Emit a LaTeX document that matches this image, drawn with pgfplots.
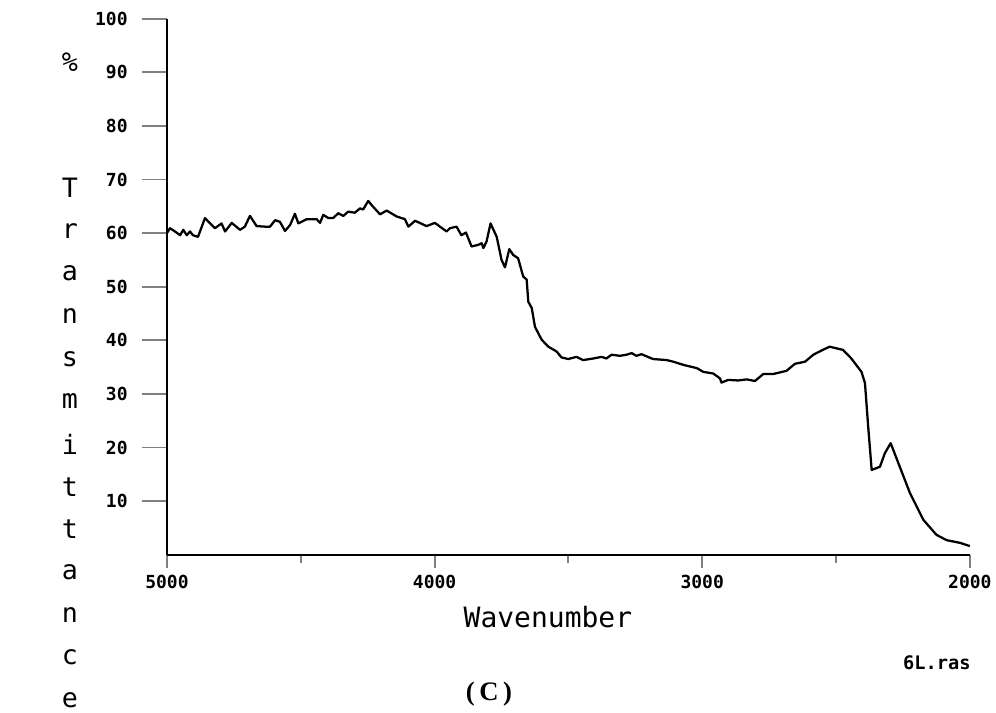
\documentclass[border=0pt]{standalone}
\usepackage{pgfplots}
\pgfplotsset{compat=1.18}
\usepackage{fontspec}
\setmainfont{DejaVu Sans Mono}
\newfontfamily\plotfont{DejaVu Sans Mono}
\newfontfamily\serifont{Liberation Serif}
\begin{document}
\begin{tikzpicture}
\begin{scope}[shift={(-125.25pt,416.025pt)}, x=0.75pt, y=-0.75pt]
\useasboundingbox (0,0) rectangle (996,711);
\end{scope}
\begin{axis}[
  scale only axis,
  width=602.25pt, height=402pt,
  x dir=reverse,
  xmin=2000, xmax=5000, ymin=0, ymax=100,
  axis lines=left,
  axis line style={-, line width=1.4pt},
  xtick={2000,3000,4000,5000},
  minor xtick={2500,3500,4500},
  ytick={10,20,...,100},
  tick align=outside,
  major tick length=19pt,
  minor tick length=6pt,
  xtick style={line width=1.4pt, /pgfplots/major tick length=10pt},
  ytick style={line width=1.4pt},
  minor tick style={line width=1.4pt},
  /pgf/number format/assume math mode=true,
  /pgf/number format/1000 sep={},
  tick label style={font=\plotfont\bfseries\fontsize{13.5}{13.5}\selectfont},
  yticklabel style={xshift=-7pt},
  xticklabel style={yshift=7pt},
  clip=false,
]
\addplot[black, line width=1.7pt, line join=round] table {
x y
5000 60.0
4989 60.9
4970 60.3
4951 59.6
4939 60.6
4926 59.6
4914 60.3
4903 59.6
4884 59.3
4858 62.8
4821 60.9
4796 61.8
4783 60.3
4758 61.9
4727 60.6
4709 61.2
4690 63.2
4665 61.3
4634 61.2
4615 61.2
4596 62.4
4578 62.1
4559 60.4
4540 61.5
4522 63.6
4509 61.8
4478 62.6
4441 62.6
4428 61.9
4416 63.4
4397 62.8
4379 62.8
4360 63.7
4341 63.2
4323 64.0
4298 63.8
4279 64.6
4267 64.4
4248 66.0
4235 65.2
4204 63.5
4179 64.2
4142 63.1
4111 62.6
4098 61.2
4073 62.3
4030 61.3
3999 61.9
3980 61.2
3955 60.3
3943 60.9
3918 61.2
3900 59.6
3883 60.1
3862 57.5
3837 57.8
3824 58.1
3818 57.2
3806 58.4
3791 61.8
3768 59.3
3750 55.0
3737 53.6
3721 57.0
3706 55.9
3688 55.3
3669 51.9
3656 51.3
3650 47.2
3637 46.0
3625 42.5
3600 40.1
3575 38.8
3544 37.9
3526 36.8
3501 36.5
3470 36.9
3445 36.3
3407 36.6
3376 36.9
3358 36.6
3339 37.3
3308 37.1
3283 37.3
3264 37.6
3246 37.1
3227 37.4
3184 36.5
3133 36.3
3108 36.0
3070 35.4
3020 34.8
2996 34.1
2959 33.8
2934 32.9
2928 32.1
2903 32.6
2866 32.5
2834 32.7
2803 32.4
2772 33.7
2735 33.7
2685 34.3
2654 35.6
2616 36.0
2585 37.3
2554 38.1
2524 38.8
2474 38.2
2443 36.6
2405 34.1
2392 32.0
2380 23.9
2367 15.8
2336 16.4
2318 18.9
2296 20.8
2262 16.4
2224 11.5
2174 6.5
2125 3.7
2087 2.7
2037 2.2
2000 1.6
};
\end{axis}
\begin{scope}[shift={(-125.25pt,416.025pt)}, x=0.75pt, y=-0.75pt]
\node[font=\plotfont\fontsize{21}{21}\selectfont] at (548,617) {Wavenumber};
\node[font=\plotfont\bfseries\fontsize{14}{14}\selectfont] at (937,663) {6L.ras};
\node[font=\serifont\bfseries\fontsize{20}{20}\selectfont] at (489,694) {(\,C\,)};
\foreach \c/\yy in {\%/62, T/188, r/231, a/273, n/316, s/359, m/401, i/444, t/487, t/529, a/572, n/615, c/657, e/700}
  \node[font=\plotfont\fontsize{20}{20}\selectfont] at (70,\yy) {\c};
\end{scope}
\end{tikzpicture}
\end{document}
